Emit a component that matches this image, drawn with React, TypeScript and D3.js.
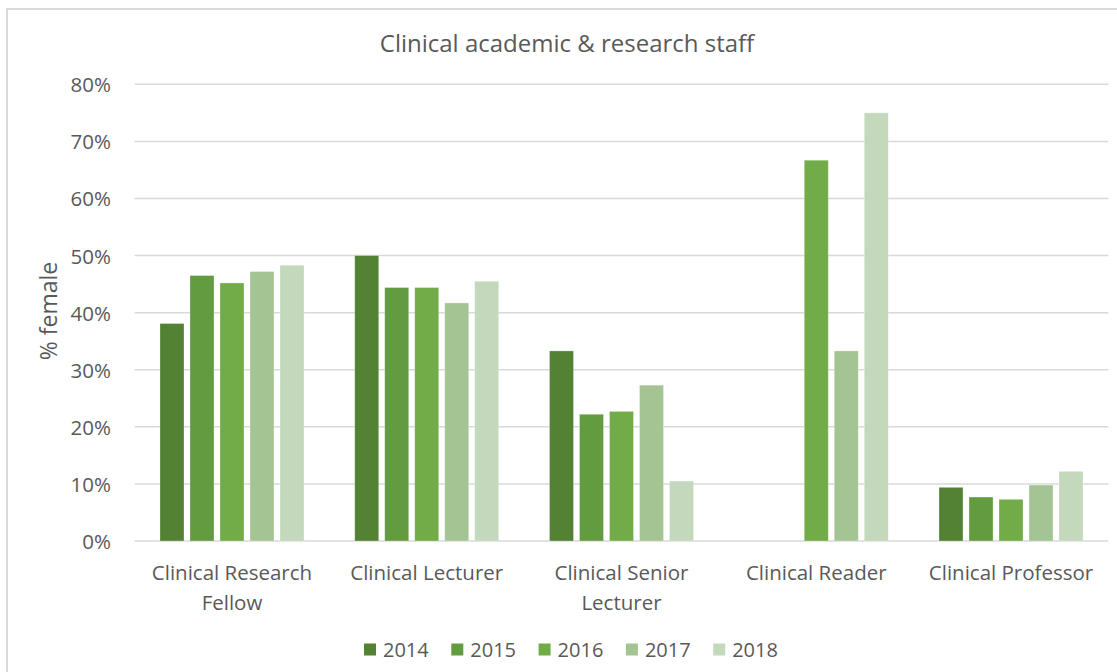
import React from "react";
import * as d3 from "d3";

const categories = [
  ["Clinical Research", "Fellow"],
  ["Clinical Lecturer"],
  ["Clinical Senior", "Lecturer"],
  ["Clinical Reader"],
  ["Clinical Professor"],
];
const years = ["2014", "2015", "2016", "2017", "2018"];
const colors = ["#548235", "#639B40", "#71AC48", "#A4C593", "#C4D8BB"];

// values in % per year, by category
const v2014 = [38.1, 50.0, 33.3, null, 9.4];
const v2015 = [46.5, 44.4, 22.2, null, 7.7];
const v2016 = [45.2, 44.4, 22.7, 66.7, 7.3];
const v2017 = [47.2, 41.7, 27.3, 33.3, 9.8];
const v2018 = [48.3, 45.5, 10.5, 75.0, 12.2];
const series = [v2014, v2015, v2016, v2017, v2018];

const yTicks = [0, 10, 20, 30, 40, 50, 60, 70, 80];

const FONT = "'Open Sans', sans-serif";
const TEXT = "#595959";

export default function App() {
  const W = 1117, H = 672;
  const left = 134.6, right = 1108.4, top = 84.3, bottom = 541;
  const catIdx = categories.map((_, i) => i);
  const x0 = d3.scaleBand<number>().domain(catIdx).range([left, right]).paddingInner(0).paddingOuter(0);
  const groupW = 144;
  const x1 = d3.scaleBand<number>().domain(years.map((_, i) => i)).range([0, groupW]).paddingInner(0.2).paddingOuter(0);
  const y = d3.scaleLinear().domain([0, 80]).range([bottom, top]);

  return (
    <svg width={W} height={H} style={{ position: "absolute", left: 0, top: 0, background: "#fff" }}>
      <rect x={7} y={9} width={1200} height={700} fill="#fff" stroke="#d9d9d9" strokeWidth={2} />
      <text x={567} y={42} textAnchor="middle" dominantBaseline="central" fontFamily={FONT} fontSize={24} fill={TEXT}>
        Clinical academic &amp; research staff
      </text>
      {yTicks.map((t) => (
        <g key={t}>
          <line x1={left} x2={right} y1={y(t)} y2={y(t)} stroke="#d9d9d9" strokeWidth={1.5} />
          <text x={111} y={y(t)} textAnchor="end" dominantBaseline="central" fontFamily={FONT} fontSize={20.5} fill={TEXT}>
            {t}%
          </text>
        </g>
      ))}
      <text
        transform={`translate(48,311) rotate(-90)`}
        textAnchor="middle"
        dominantBaseline="central"
        fontFamily={FONT}
        fontSize={23}
        fill={TEXT}
      >
        % female
      </text>
      {catIdx.map((ci) => {
        const bx = (x0(ci) as number) + (x0.bandwidth() - groupW) / 2;
        return (
          <g key={ci}>
            {series.map((s, si) => {
              const v = s[ci];
              if (v == null) return null;
              return (
                <rect
                  key={si}
                  x={bx + (x1(si) as number)}
                  y={y(v)}
                  width={x1.bandwidth()}
                  height={y(0) - y(v)}
                  fill={colors[si]}
                  stroke="#ffffff"
                  strokeOpacity={0.35}
                  strokeWidth={0.8}
                />
              );
            })}
            {categories[ci].map((line, li) => (
              <text
                key={li}
                x={(x0(ci) as number) + x0.bandwidth() / 2}
                y={572 + li * 30}
                textAnchor="middle"
                dominantBaseline="central"
                fontFamily={FONT}
                fontSize={20.5}
                fill={TEXT}
              >
                {line}
              </text>
            ))}
          </g>
        );
      })}
      {years.map((yr, i) => {
        const lx = 364 + i * 87.3;
        return (
          <g key={yr}>
            <rect x={lx} y={643.5} width={12} height={12} fill={colors[i]} />
            <text x={lx + 19} y={649} dominantBaseline="central" fontFamily={FONT} fontSize={20} fill={TEXT}>
              {yr}
            </text>
          </g>
        );
      })}
    </svg>
  );
}
